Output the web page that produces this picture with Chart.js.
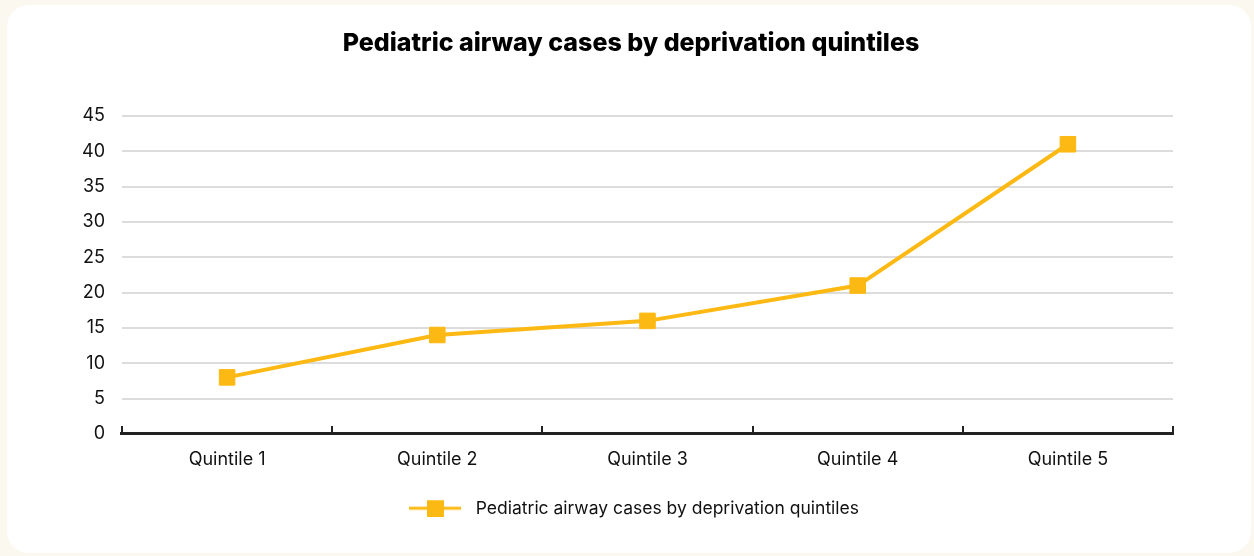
<!DOCTYPE html>
<html>
<head>
<meta charset="utf-8">
<script src="https://cdn.jsdelivr.net/npm/chart.js@4"></script>
<style>
  html, body { margin: 0; padding: 0; }
  body { width: 1254px; height: 556px; background: #fbf8f0; position: relative; overflow: hidden; }
  .card { position: absolute; left: 7px; top: 5px; right: 3px; bottom: 3px; background: #fff; border-radius: 22px; }
  #chart { position: absolute; left: 0; top: 0; }
</style>
</head>
<body>
<div class="card"></div>
<canvas id="chart" width="1254" height="556"></canvas>
<script>
  const quintiles = ['Quintile 1', 'Quintile 2', 'Quintile 3', 'Quintile 4', 'Quintile 5'];
  const airwayCases = [8, 14, 16, 21, 41];
  const seriesName = 'Pediatric airway cases by deprivation quintiles';

  const amber = '#fdb913';
  const font = "Inter, 'Noto Sans', sans-serif";

  // legend marker: a short line with the square on it
  const marker = document.createElement('canvas');
  marker.width = 52;
  marker.height = 18;
  const mctx = marker.getContext('2d');
  mctx.fillStyle = amber;
  mctx.fillRect(0, 7.5, 52, 3);
  mctx.fillRect(18, 1, 17, 17);

  const ctx = document.getElementById('chart');

  new Chart(ctx, {
    type: 'line',
    data: {
      labels: quintiles,
      datasets: [{
        label: seriesName,
        data: airwayCases,
        borderColor: amber,
        backgroundColor: amber,
        borderWidth: 4,
        pointStyle: 'rect',
        pointRadius: 11,
        pointBorderWidth: 1,
        pointBorderColor: amber,
        pointBackgroundColor: amber,
        tension: 0
      }]
    },
    options: {
      responsive: false,
      animation: false,
      layout: {
        padding: { top: 10, left: 65, right: 57, bottom: 29 }
      },
      scales: {
        x: {
          offset: true,
          grid: {
            offset: true,
            drawOnChartArea: false,
            color: '#222',
            lineWidth: 2,
            tickLength: -8
          },
          border: { color: '#222', width: 3 },
          ticks: {
            color: '#111',
            padding: 23,
            font: { family: font, size: 18 }
          }
        },
        y: {
          min: 0,
          max: 45,
          ticks: {
            stepSize: 5,
            color: '#111',
            padding: 17,
            font: { family: font, size: 18 }
          },
          grid: { color: '#dcdcdc', lineWidth: 2, drawTicks: false },
          border: { display: false }
        },
        // empty right-hand gutter so the title stays centred on the card
        gutter: {
          position: 'right',
          min: 0,
          max: 45,
          ticks: { display: false },
          grid: { display: false },
          border: { display: false },
          afterFit: (scale) => { scale.width = 24; }
        }
      },
      plugins: {
        title: {
          display: true,
          text: seriesName,
          color: '#000',
          font: { family: font, size: 25, weight: 800 },
          padding: { top: 18, bottom: 58 }
        },
        legend: {
          position: 'bottom',
          labels: {
            usePointStyle: true,
            pointStyleWidth: 64,
            color: '#111',
            font: { family: font, size: 17.5 },
            padding: 6,
            generateLabels: () => [{
              text: seriesName,
              pointStyle: marker,
              fontColor: '#111',
              datasetIndex: 0,
              lineWidth: 0
            }]
          }
        },
        tooltip: { enabled: false }
      }
    }
  });
</script>
</body>
</html>
